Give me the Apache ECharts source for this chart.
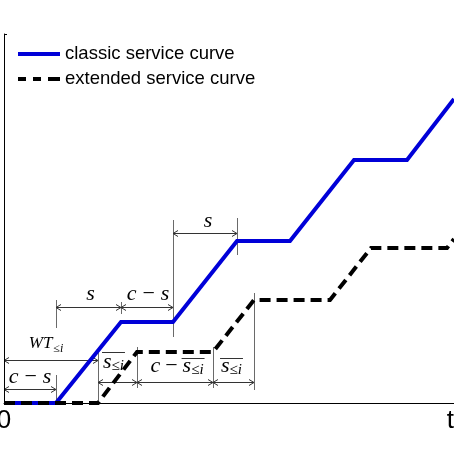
<!DOCTYPE html>
<html><head><meta charset="utf-8">
<script src="https://cdn.jsdelivr.net/npm/echarts@6/dist/echarts.min.js"></script>
<style>html,body{margin:0;padding:0;background:#fff}#c{width:454px;height:454px}</style>
</head><body><div id="c"></div>
<script>
// ---- data ----
const seriesNames = ['classic service curve', 'extended service curve'];
const classicT = [0, 52, 117, 169, 233, 286, 350, 403, 450];
const classicS = [0, 0, 81, 81, 162, 162, 243, 243, 304];
const extendedT = [0, 94, 133, 209, 250, 326, 367, 443, 450];
const extendedS = [0, 0, 51, 51, 103, 103, 155, 155, 164];
const xTickLabels = ['0', 't'];
const X_MAX = 450, Y_MAX = 369;

// ---- annotation text tokens ----
const CMS = [{t:'c',it:1},{t:'\u2212',g:6},{t:'s',it:1,g:6}];
const S1 = [{t:'s',it:1}];
const WT = [{t:'WT',it:1,s:17},{t:'\u2264',s:12,dy:5,g:1},{t:'i',it:1,s:12,dy:5}];
const SB = [{t:'s',it:1,o:1},{t:'\u2264',s:15,dy:4,o:1},{t:'i',it:1,s:15,dy:4,o:1}];
const CMSB = [{t:'c',it:1},{t:'\u2212',g:5},{t:'s',it:1,g:5,o:1},{t:'\u2264',s:15,dy:4,o:1},{t:'i',it:1,s:15,dy:4,o:1}];

// ---- annotation layout ----
const dims = [
  {x1:0, x2:classicT[1], level:14, label:CMS, dx:0, dy:-12},
  {x1:0, x2:extendedT[1], level:43, label:WT, dx:-5, dy:-17},
  {x1:classicT[1], x2:classicT[2], level:96, label:S1, dx:2, dy:-13},
  {x1:classicT[2], x2:classicT[3], level:96, label:CMS, dx:1, dy:-13},
  {x1:classicT[3], x2:classicT[4], level:170, label:S1, dx:3, dy:-12},
  {x1:extendedT[1], x2:extendedT[2], level:21, label:SB, dx:-4, dy:-20, over:-11},
  {x1:extendedT[2], x2:extendedT[3], level:21, label:CMSB, dx:2, dy:-16, over:-9},
  {x1:extendedT[3], x2:extendedT[4], level:21, label:SB, dx:-2, dy:-16, over:-9}
];
const guides = [
  {x:classicT[1], y1:1, y2:28},
  {x:classicT[1], y1:75, y2:103},
  {x:classicT[2], y1:89, y2:101},
  {x:classicT[3], y1:66, y2:183},
  {x:classicT[4], y1:148, y2:185},
  {x:extendedT[1], y1:0, y2:53},
  {x:extendedT[2], y1:15, y2:56},
  {x:extendedT[3], y1:15, y2:56},
  {x:extendedT[4], y1:13, y2:110}
];

const chart = echarts.init(document.getElementById('c'), null, {renderer:'canvas'});
const BLUE = '#0000d8';
chart.setOption({
  animation: false,
  backgroundColor: '#fff',
  grid: {left:4, right:0, top:34, bottom:51, containLabel:false, outerBoundsMode:'none'},
  legend: {
    orient:'vertical', left:18, top:44, padding:0, itemWidth:42, itemHeight:4, itemGap:5,
    textStyle:{fontSize:18.5, fontFamily:'Liberation Sans', color:'#000', lineHeight:20},
    data:[
      {name:seriesNames[0], icon:'path://M0,0H42V4H0Z'},
      {name:seriesNames[1], icon:'path://M0,0H8V4H0Z M15,0H23V4H15Z M30,0H42V4H30Z'}
    ]
  },
  xAxis: {
    type:'value', min:0, max:X_MAX, interval:X_MAX,
    axisLine:{show:true, lineStyle:{color:'#000', width:1}},
    axisTick:{show:false}, splitLine:{show:false},
    axisLabel:{fontSize:26, color:'#000', fontFamily:'Liberation Sans', margin:5,
      alignMinLabel:'center', alignMaxLabel:'right',
      formatter: v => v === 0 ? xTickLabels[0] : xTickLabels[1]}
  },
  yAxis: {
    type:'value', min:0, max:Y_MAX, interval:Y_MAX,
    axisLine:{show:true, lineStyle:{color:'#000', width:1}},
    axisTick:{show:true, inside:true, length:3, lineStyle:{color:'#000'}},
    axisLabel:{show:false}, splitLine:{show:false}
  },
  series: [
    {type:'line', name:seriesNames[0], data:classicT.map((t,i)=>[t,classicS[i]]), symbol:'none',
     lineStyle:{color:BLUE, width:4, join:'miter'}, itemStyle:{color:BLUE}, z:2},
    {type:'line', name:seriesNames[1], data:extendedT.map((t,i)=>[t,extendedS[i]]), symbol:'none',
     lineStyle:{color:'#000', width:4, type:[11,6], join:'miter'}, itemStyle:{color:'#000'}, z:3}
  ]
});

// ---- annotations drawn through the chart's own coordinate conversion ----
const cv = document.createElement('canvas').getContext('2d');
function fontOf(tk){ return (tk.it ? 'italic ' : '') + (tk.s || 22) + 'px "Liberation Serif"'; }
function buildGraphic(){
  const els = [];
  const P = (x,y) => chart.convertToPixel({gridIndex:0}, [x,y]);
  const r = v => Math.round(v) + 0.5;
  function seg(x1,y1,x2,y2,color){
    els.push({type:'line', silent:true, shape:{x1,y1,x2,y2}, style:{stroke:color, lineWidth:1}});
  }
  guides.forEach(g => {
    const a = P(g.x, g.y1), b = P(g.x, g.y2);
    seg(r(a[0]), a[1], r(a[0]), b[1], '#6a6a6a');
  });
  dims.forEach(d => {
    const a = P(d.x1, d.level), b = P(d.x2, d.level);
    const y = r(a[1]), xa = a[0], xb = b[0];
    const col = '#333';
    seg(xa, y, xb, y, col);
    els.push({type:'polyline', silent:true, shape:{points:[[xa+5,y-3],[xa,y],[xa+5,y+3]]}, style:{stroke:col, lineWidth:1, fill:null}});
    els.push({type:'polyline', silent:true, shape:{points:[[xb-5,y-3],[xb,y],[xb-5,y+3]]}, style:{stroke:col, lineWidth:1, fill:null}});
    const cx = (xa+xb)/2 + d.dx, cy = y + d.dy;
    const widths = d.label.map(tk => { cv.font = fontOf(tk); return cv.measureText(tk.t).width; });
    const total = widths.reduce((s,w)=>s+w,0) + d.label.reduce((s,tk)=>s+(tk.g||0),0);
    let x = cx - total/2, o0 = null, o1 = null;
    d.label.forEach((tk,i) => {
      x += tk.g || 0;
      els.push({type:'text', silent:true, x:x, y:cy + (tk.dy||0),
        style:{text:tk.t, fill:'#000', font:fontOf(tk), align:'left', verticalAlign:'middle',
               textAlign:'left', textVerticalAlign:'middle'}});
      if (tk.o) { if (o0 === null) o0 = x; o1 = x + widths[i]; }
      x += widths[i];
    });
    if (o0 !== null) seg(o0-1, r(cy + d.over), o1+1, r(cy + d.over), '#333');
  });
  return els;
}
chart.setOption({graphic:{elements: buildGraphic()}});
</script></body></html>
